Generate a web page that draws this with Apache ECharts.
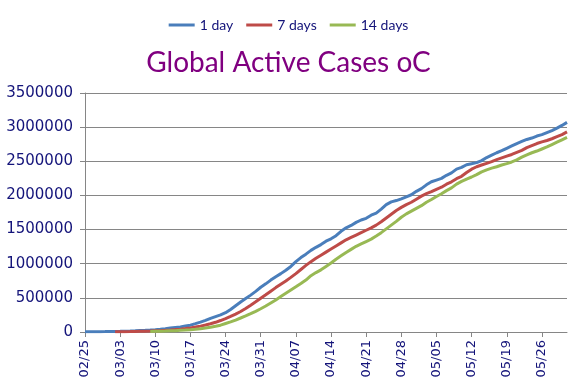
<!DOCTYPE html>
<html>
<head>
<meta charset="utf-8">
<script src="https://cdn.jsdelivr.net/npm/echarts@6/dist/echarts.min.js"></script>
<style>
html,body{margin:0;padding:0;background:#fff;}
#chart{width:577px;height:384px;}
</style>
</head>
<body>
<div id="chart"></div>
<script>
var dates = [
 '02/25','02/26','02/27','02/28','02/29',
 '03/01','03/02','03/03','03/04','03/05','03/06','03/07','03/08','03/09','03/10',
 '03/11','03/12','03/13','03/14','03/15','03/16','03/17','03/18','03/19','03/20',
 '03/21','03/22','03/23','03/24','03/25','03/26','03/27','03/28','03/29','03/30','03/31',
 '04/01','04/02','04/03','04/04','04/05','04/06','04/07','04/08','04/09','04/10',
 '04/11','04/12','04/13','04/14','04/15','04/16','04/17','04/18','04/19','04/20',
 '04/21','04/22','04/23','04/24','04/25','04/26','04/27','04/28','04/29','04/30',
 '05/01','05/02','05/03','05/04','05/05','05/06','05/07','05/08','05/09','05/10',
 '05/11','05/12','05/13','05/14','05/15','05/16','05/17','05/18','05/19','05/20',
 '05/21','05/22','05/23','05/24','05/25','05/26','05/27','05/28','05/29','05/30','05/31'
];

var seriesNames = ['1 day', '7 days', '14 days'];

var oneDay = [
 2000, 3000, 3500, 4500, 5500, 7000, 8500, 10000, 12000, 14000, 17000, 21000, 24000, 28000, 33000,
 39000, 47000, 58000, 67000, 75000, 88000, 100000, 122000, 145000, 170000, 200000, 225000, 250000, 282000,
 330000, 385000, 440000, 490000, 540000, 595000, 655000, 705000, 760000, 810000, 855000, 905000, 960000, 1030000,
 1090000, 1140000, 1195000, 1240000, 1280000, 1330000, 1365000, 1410000, 1475000, 1525000, 1560000, 1605000, 1640000, 1665000,
 1710000, 1740000, 1800000, 1865000, 1905000, 1925000, 1950000, 1980000, 2010000, 2060000, 2100000, 2155000, 2200000, 2225000,
 2250000, 2295000, 2330000, 2385000, 2410000, 2450000, 2465000, 2480000, 2510000, 2555000, 2590000, 2625000, 2655000, 2690000,
 2725000, 2760000, 2790000, 2820000, 2840000, 2870000, 2890000, 2920000, 2950000, 2985000, 3025000, 3070000
];

// starts at 03/02
var sevenDaysStart = 6;
var sevenDays = [
 3000, 4000, 5000, 6000, 8000, 10000, 12000, 14000, 17000,
 20000, 24000, 29000, 35000, 42000, 50000, 60000, 72000, 86000, 102000, 121000, 142000, 168000, 197000,
 228000, 262000, 300000, 343000, 392000, 442000, 495000, 546000, 598000, 650000, 700000, 748000, 800000, 855000,
 915000, 975000, 1030000, 1080000, 1125000, 1170000, 1215000, 1260000, 1305000, 1350000, 1385000, 1420000, 1455000, 1490000,
 1525000, 1565000, 1615000, 1670000, 1725000, 1780000, 1825000, 1865000, 1900000, 1945000, 1990000, 2025000, 2055000, 2090000,
 2120000, 2165000, 2200000, 2245000, 2280000, 2335000, 2385000, 2420000, 2445000, 2470000, 2495000, 2525000, 2550000, 2575000,
 2600000, 2630000, 2660000, 2700000, 2730000, 2760000, 2785000, 2805000, 2830000, 2860000, 2890000, 2930000
];

// starts at 03/09
var fourteenDaysStart = 13;
var fourteenDays = [
 8000, 10000, 12000, 14000, 17000, 20000, 24000, 28000, 33000, 40000, 48000, 58000, 70000, 84000, 100000, 125000,
 148000, 175000, 205000, 235000, 268000, 303000, 340000, 380000, 425000, 470000, 520000, 568000, 615000, 662000,
 710000, 760000, 825000, 870000, 910000, 960000, 1010000, 1065000, 1115000, 1165000, 1210000, 1255000, 1290000, 1325000,
 1360000, 1405000, 1455000, 1510000, 1565000, 1620000, 1680000, 1730000, 1770000, 1810000, 1850000, 1900000, 1940000, 1985000,
 2025000, 2070000, 2110000, 2165000, 2205000, 2240000, 2270000, 2305000, 2345000, 2375000, 2400000, 2420000, 2445000, 2465000,
 2490000, 2520000, 2560000, 2595000, 2625000, 2650000, 2680000, 2710000, 2745000, 2780000, 2815000, 2850000
];

var yTicks = [0, 500000, 1000000, 1500000, 2000000, 2500000, 3000000, 3500000];

function pad(start, arr) {
  var out = [];
  for (var i = 0; i < start; i++) out.push(null);
  return out.concat(arr);
}

var colors = ['#4A7EBB', '#BE4B48', '#98B954'];
var textColor = '#14147a';
var gridColor = '#868686';

var chart = echarts.init(document.getElementById('chart'), null, {renderer: 'canvas'});
chart.setOption({
  animation: false,
  backgroundColor: '#ffffff',
  color: colors,
  title: {
    text: 'Global Active Cases oC',
    left: 'center',
    top: 44,
    textStyle: {fontFamily: 'Lato', fontSize: 28, fontWeight: 'normal', color: '#800080'}
  },
  legend: {
    top: 13,
    left: 'center',
    icon: 'rect',
    itemWidth: 26,
    itemHeight: 3,
    itemGap: 13,
    data: seriesNames,
    textStyle: {fontFamily: 'Lato', fontSize: 14, color: textColor}
  },
  grid: {left: 85, right: 10, top: 93, bottom: 52, containLabel: false},
  xAxis: {
    type: 'category',
    boundaryGap: false,
    data: dates,
    axisLine: {show: true, lineStyle: {color: gridColor, width: 1}},
    axisTick: {show: true, interval: 6, length: 5, lineStyle: {color: gridColor}},
    axisLabel: {interval: 6, rotate: 90, margin: 8, fontFamily: 'DejaVu Sans', fontSize: 13, color: textColor},
    splitLine: {show: false}
  },
  yAxis: {
    type: 'value',
    min: yTicks[0],
    max: yTicks[yTicks.length - 1],
    interval: yTicks[1] - yTicks[0],
    axisLine: {show: true, lineStyle: {color: gridColor, width: 1}},
    axisTick: {show: true, length: 5, lineStyle: {color: gridColor}},
    axisLabel: {
      margin: 12, fontFamily: 'DejaVu Sans', fontSize: 15, color: textColor,
      formatter: function (v) { return String(v); }
    },
    splitLine: {show: true, lineStyle: {color: gridColor, width: 1}}
  },
  series: [
    {name: seriesNames[0], type: 'line', data: oneDay, showSymbol: false, lineStyle: {width: 3}},
    {name: seriesNames[1], type: 'line', data: pad(sevenDaysStart, sevenDays), showSymbol: false, lineStyle: {width: 3}},
    {name: seriesNames[2], type: 'line', data: pad(fourteenDaysStart, fourteenDays), showSymbol: false, lineStyle: {width: 3}}
  ]
});
</script>
</body>
</html>
